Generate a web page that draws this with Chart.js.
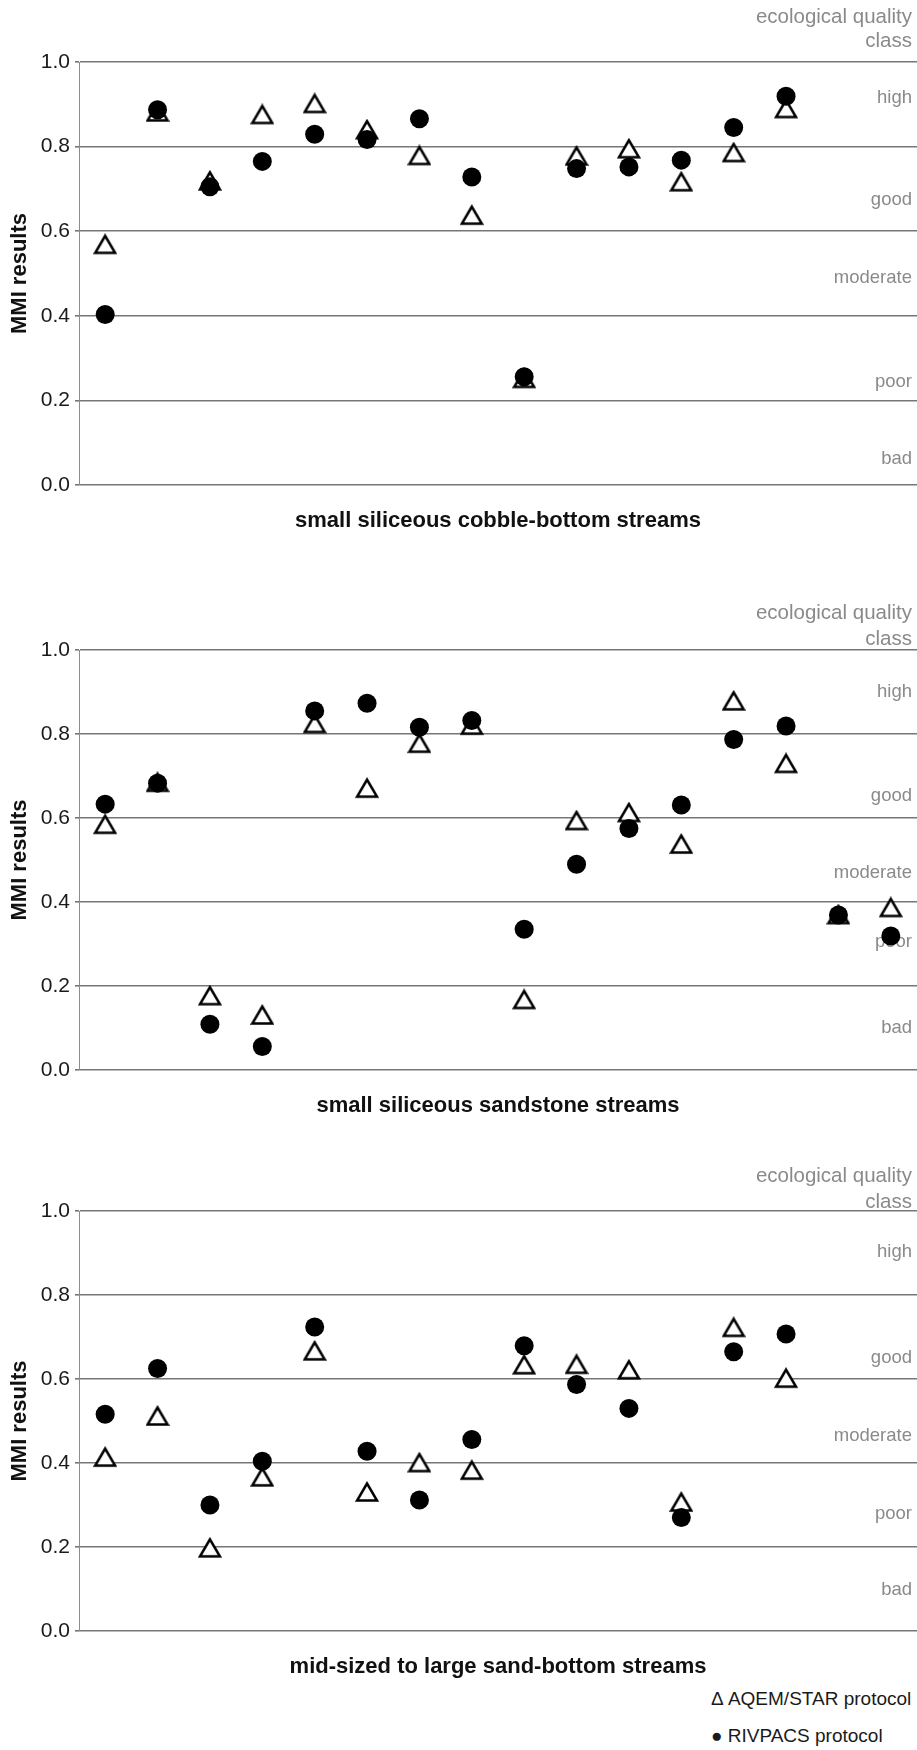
<!DOCTYPE html>
<html>
<head>
<meta charset="utf-8">
<script src="https://cdn.jsdelivr.net/npm/chart.js@4.4.1/dist/chart.umd.min.js"></script>
<style>
  body { margin: 0; background: #fff; }
  #wrap { position: relative; width: 917px; height: 1750px; font-family: "Liberation Sans", Arial, sans-serif; }
  #wrap canvas { position: absolute; left: 0; }
  .leg { position: absolute; left: 711px; font-size: 19px; color: #1a1a1a; line-height: 22px; white-space: nowrap; }
</style>
</head>
<body>
<div id="wrap">
  <div class="leg" style="top:1688px">&#916; AQEM/STAR protocol</div>
  <div class="leg" style="top:1725px">&#9679; RIVPACS protocol</div>
</div>
<script>
// --- DATA ---
const classes = ['high', 'good', 'moderate', 'poor', 'bad'];
const yTicks = [0, 0.2, 0.4, 0.6, 0.8, 1.0];

// small siliceous cobble-bottom streams (14 sites)
const cobbleAqem    = [0.569, 0.882, 0.719, 0.876, 0.902, 0.840, 0.779, 0.638, 0.252, 0.778, 0.795, 0.717, 0.786, 0.890];
const cobbleRivpacs = [0.403, 0.887, 0.705, 0.765, 0.829, 0.817, 0.866, 0.728, 0.256, 0.748, 0.752, 0.768, 0.845, 0.919];

// small siliceous sandstone streams (16 sites)
const sandstoneAqem    = [0.585, 0.685, 0.177, 0.131, 0.825, 0.671, 0.778, 0.821, 0.168, 0.594, 0.613, 0.538, 0.879, 0.730, 0.370, 0.387];
const sandstoneRivpacs = [0.633, 0.683, 0.109, 0.056, 0.855, 0.873, 0.816, 0.832, 0.335, 0.490, 0.575, 0.631, 0.787, 0.819, 0.369, 0.319];

// mid-sized to large sand-bottom streams (14 sites)
const sandAqem    = [0.414, 0.512, 0.198, 0.367, 0.667, 0.331, 0.401, 0.383, 0.634, 0.635, 0.622, 0.307, 0.723, 0.602];
const sandRivpacs = [0.516, 0.625, 0.300, 0.404, 0.724, 0.428, 0.312, 0.456, 0.679, 0.587, 0.530, 0.270, 0.665, 0.707];

const FONT = '"Liberation Sans", Arial, sans-serif';

// --- PANELS (layout only) ---
const panels = [
    { title: 'small siliceous cobble-bottom streams', aqem: cobbleAqem, rivpacs: cobbleRivpacs,
      top: 0, plotTop: 62, plotBottom: 485, head: [-45, -21], classPos: [0.915, 0.674, 0.49, 0.244, 0.061] },
    { title: 'small siliceous sandstone streams', aqem: sandstoneAqem, rivpacs: sandstoneRivpacs,
      top: 590, plotTop: 60, plotBottom: 480, head: [-37, -11], classPos: [0.9, 0.652, 0.469, 0.305, 0.10] },
    { title: 'mid-sized to large sand-bottom streams', aqem: sandAqem, rivpacs: sandRivpacs,
      top: 1150, plotTop: 61, plotBottom: 481, head: [-35, -9], classPos: [0.902, 0.65, 0.464, 0.279, 0.098] }
];

// open triangle marker, centred on its bounding box
function triangleMarker() {
    const c = document.createElement('canvas');
    c.width = 24; c.height = 22;
    const g = c.getContext('2d');
    g.beginPath();
    g.moveTo(12, 2.5);
    g.lineTo(2, 19.5);
    g.lineTo(22, 19.5);
    g.closePath();
    g.fillStyle = '#fff';
    g.fill();
    g.lineWidth = 2.5;
    g.strokeStyle = '#000';
    g.stroke();
    return c;
}
const tri = triangleMarker();

// class names on the right and header above the plot
const classLabels = {
    id: 'classLabels',
    beforeDatasetsDraw(chart, args, opts) {
        const { ctx, chartArea, scales: { y } } = chart;
        ctx.save();
        ctx.fillStyle = '#8a8a8a';
        ctx.textAlign = 'right';
        ctx.textBaseline = 'middle';
        const xr = chartArea.right - 5;
        ctx.font = '20.5px ' + FONT;
        ctx.fillText('ecological quality', xr, chartArea.top + opts.head[0]);
        ctx.fillText('class', xr, chartArea.top + opts.head[1]);
        ctx.font = '18.5px ' + FONT;
        classes.forEach((c, i) => ctx.fillText(c, xr, y.getPixelForValue(opts.pos[i])));
        ctx.restore();
    }
};

const wrap = document.getElementById('wrap');

panels.forEach(p => {
    const cv = document.createElement('canvas');
    const h = p.plotBottom + 60;
    cv.width = 917; cv.height = h;
    cv.style.top = p.top + 'px';
    cv.style.width = '917px'; cv.style.height = h + 'px';
    wrap.appendChild(cv);

    new Chart(cv, {
        type: 'scatter',
        data: {
            datasets: [
                {
                    label: 'RIVPACS protocol',
                    data: p.rivpacs.map((v, i) => ({ x: i, y: v })),
                    pointStyle: 'circle',
                    pointRadius: 9.5,
                    backgroundColor: '#000',
                    borderColor: '#000',
                    borderWidth: 0,
                    order: 0
                },
                {
                    label: 'AQEM/STAR protocol',
                    data: p.aqem.map((v, i) => ({ x: i, y: v })),
                    pointStyle: tri,
                    pointRadius: 11,
                    order: 1
                }
            ]
        },
        options: {
            responsive: false,
            animation: false,
            devicePixelRatio: 1,
            layout: { autoPadding: false, padding: { top: p.plotTop, left: 0, right: 0, bottom: 0 } },
            plugins: {
                legend: { display: false },
                tooltip: { enabled: false },
                classLabels: { head: p.head, pos: p.classPos }
            },
            scales: {
                x: {
                    type: 'linear', min: -0.5, max: 15.5,
                    ticks: { display: false },
                    grid: { display: false },
                    border: { display: false },
                    title: { display: true, text: p.title, color: '#111',
                             font: { family: FONT, size: 22, weight: 'bold' }, padding: { top: 0, bottom: 11 } },
                    afterFit: s => { s.height = 60; }
                },
                y: {
                    min: 0, max: 1,
                    afterBuildTicks: s => { s.ticks = yTicks.map(v => ({ value: v })); },
                    ticks: { callback: v => v.toFixed(1), color: '#1a1a1a', padding: 5,
                             font: { family: FONT, size: 21 } },
                    grid: { color: '#767676', lineWidth: 1.6, tickLength: 4, drawTicks: true },
                    border: { display: true, color: '#8c8c8c', width: 1 },
                    title: { display: true, text: 'MMI results', color: '#111',
                             font: { family: FONT, size: 22, weight: 'bold' }, padding: { top: 7, bottom: 0 } },
                    afterFit: s => { s.width = 79; }
                }
            }
        },
        plugins: [classLabels]
    });
});
</script>
</body>
</html>
